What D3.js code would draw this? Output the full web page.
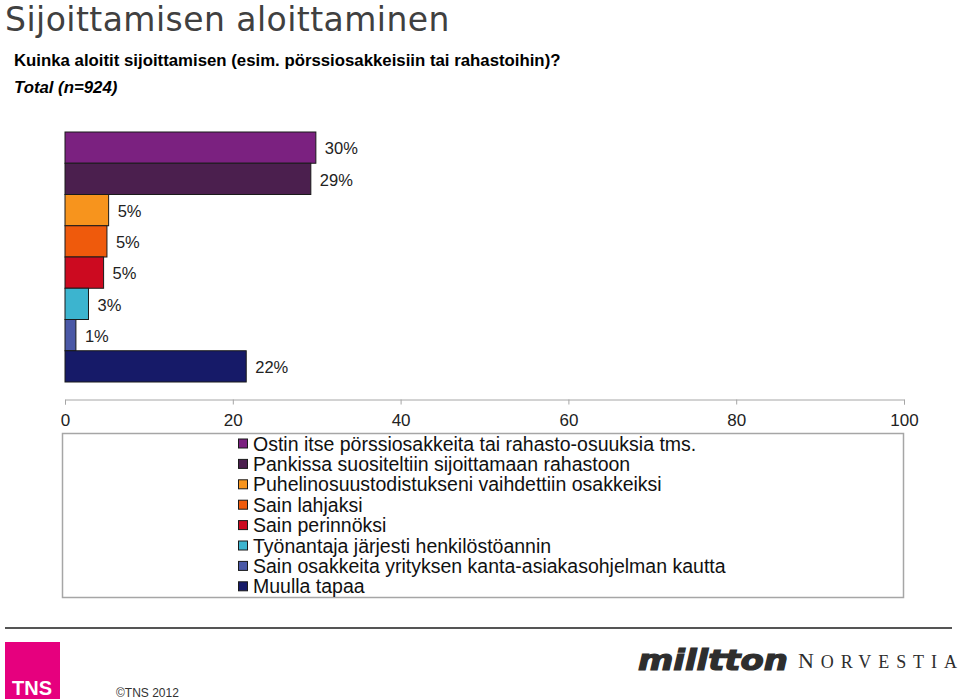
<!DOCTYPE html>
<html>
    <head>
        <meta charset="UTF-8" />
        <title>Sijoittamisen aloittaminen</title>
        <style>
            body { margin: 0; background: #fff; }
            svg text { font-family: "Liberation Sans", Arial, sans-serif; }
        </style>
    </head>
    <body>
        <script src="https://d3js.org/d3.v7.min.js"></script>
        <script type="text/javascript">
            // answers, in the order of the bars
            var categories = [
                "Ostin itse pörssiosakkeita tai rahasto-osuuksia tms.",
                "Pankissa suositeltiin sijoittamaan rahastoon",
                "Puhelinosuustodistukseni vaihdettiin osakkeiksi",
                "Sain lahjaksi",
                "Sain perinnöksi",
                "Työnantaja järjesti henkilöstöannin",
                "Sain osakkeita yrityksen kanta-asiakasohjelman kautta",
                "Muulla tapaa"
            ];
            var values = [29.9, 29.3, 5.2, 5.0, 4.6, 2.8, 1.3, 21.6];
            var ticks = [0, 20, 40, 60, 80, 100];
            var colors = [
                "#7b2180", "#4b1f4e", "#f7941d", "#ef5a0c",
                "#cc0a20", "#3cb4cf", "#4a58a6", "#161a68"
            ];

            var svg = d3
                .select("body")
                .append("svg")
                .attr("width", 960)
                .attr("height", 699);

            var x = d3.scaleLinear().domain([0, 100]).range([65, 904]);
            var y = d3.scaleBand().domain(categories).range([132, 382]);
            var color = d3.scaleOrdinal(categories, colors);
            var pct = d3.format(".0f");

            // titles
            svg.append("text")
                .attr("x", 5)
                .attr("y", 31)
                .style("font-family", "'DejaVu Sans', Verdana, sans-serif")
                .style("font-size", "33px")
                .style("letter-spacing", "0.45px")
                .attr("fill", "#404040")
                .text("Sijoittamisen aloittaminen");

            svg.append("text")
                .attr("x", 14)
                .attr("y", 66)
                .style("font-size", "16.8px")
                .style("font-weight", "bold")
                .text(
                    "Kuinka aloitit sijoittamisen (esim. pörssiosakkeisiin tai rahastoihin)?"
                );

            svg.append("text")
                .attr("x", 14)
                .attr("y", 93)
                .style("font-size", "16.8px")
                .style("font-weight", "bold")
                .style("font-style", "italic")
                .text("Total (n=924)");

            // bars
            svg.append("g")
                .selectAll("rect")
                .data(categories)
                .join("rect")
                .attr("x", x(0))
                .attr("y", function(d) { return y(d); })
                .attr("width", function(d, i) { return x(values[i]) - x(0); })
                .attr("height", y.bandwidth())
                .attr("fill", function(d) { return color(d); })
                .attr("stroke", "#1a1a1a")
                .attr("stroke-width", 1);

            svg.append("g")
                .selectAll("text")
                .data(categories)
                .join("text")
                .attr("x", function(d, i) { return x(values[i]) + 9; })
                .attr("y", function(d) { return y(d) + y.bandwidth() / 2 + 1; })
                .attr("dy", "0.35em")
                .style("font-size", "16.5px")
                .attr("fill", "#222")
                .text(function(d, i) { return pct(values[i]) + "%"; });

            // x axis
            var axis = svg.append("g")
                .attr("transform", "translate(0,399.5)")
                .call(
                    d3.axisBottom(x)
                        .tickValues(ticks)
                        .tickSize(5)
                        .tickPadding(9)
                );
            axis.selectAll("path, line").attr("stroke", "#a6a6a6");
            axis.selectAll("text")
                .style("font-size", "17px")
                .style("font-family", "'Liberation Sans', Arial, sans-serif")
                .attr("fill", "#222");

            // legend
            svg.append("rect")
                .attr("x", 62.5)
                .attr("y", 433.5)
                .attr("width", 841)
                .attr("height", 164)
                .attr("fill", "none")
                .attr("stroke", "#a6a6a6")
                .attr("stroke-width", 1.5);

            var legend = svg.append("g")
                .selectAll("g")
                .data(categories)
                .join("g")
                .attr("transform", function(d, i) {
                    return "translate(238," + (443.5 + i * 20.4) + ")";
                });

            legend.append("rect")
                .attr("x", 0.5)
                .attr("y", -4.5)
                .attr("width", 9)
                .attr("height", 9)
                .attr("fill", function(d) { return color(d); })
                .attr("stroke", "#1a1a1a");

            legend.append("text")
                .attr("x", 15)
                .attr("dy", "0.36em")
                .style("font-size", "19.5px")
                .attr("fill", "#111")
                .text(function(d) { return d; });

            // footer
            svg.append("line")
                .attr("x1", 5)
                .attr("x2", 952)
                .attr("y1", 628)
                .attr("y2", 628)
                .attr("stroke", "#555")
                .attr("stroke-width", 2);

            svg.append("rect")
                .attr("x", 5)
                .attr("y", 642)
                .attr("width", 55)
                .attr("height", 57)
                .attr("fill", "#e6007e");

            svg.append("text")
                .attr("x", 32)
                .attr("y", 695)
                .attr("text-anchor", "middle")
                .style("font-size", "21px")
                .style("font-weight", "bold")
                .style("font-family", "'Liberation Sans Narrow', 'Liberation Sans', sans-serif")
                .attr("fill", "#fff")
                .attr("textLength", 40)
                .attr("lengthAdjust", "spacingAndGlyphs")
                .text("TNS");

            svg.append("text")
                .attr("x", 116)
                .attr("y", 697)
                .style("font-size", "12px")
                .attr("fill", "#333")
                .text("©TNS 2012");

            svg.append("text")
                .attr("x", 638)
                .attr("y", 670)
                .style("font-family", "'DejaVu Sans', sans-serif")
                .style("font-size", "28px")
                .style("font-weight", "900")
                .style("font-style", "italic")
                .attr("fill", "#2e2e2e")
                .attr("stroke", "#2e2e2e")
                .attr("stroke-width", 1.2)
                .attr("textLength", 150)
                .attr("lengthAdjust", "spacingAndGlyphs")
                .text("milltton");

            var norv = svg.append("text")
                .attr("x", 798)
                .attr("y", 668)
                .style("font-family", "'Liberation Serif', 'DejaVu Serif', serif")
                .attr("fill", "#2e2e2e")
                .attr("textLength", 159)
                .attr("lengthAdjust", "spacing");
            norv.append("tspan").style("font-size", "22px").text("N");
            norv.append("tspan").style("font-size", "18px").text("ORVESTIA");
        </script>
    </body>
</html>
